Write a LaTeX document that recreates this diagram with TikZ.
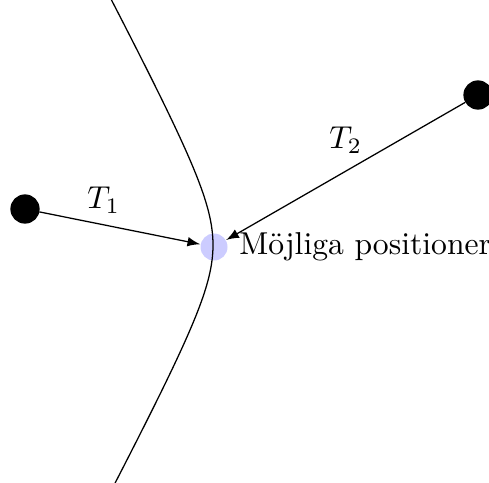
\documentclass[tikz,border=0pt]{standalone}
\usetikzlibrary{positioning}
\newcommand{\pxu}{0.316pt}
\begin{document}
\begin{tikzpicture}[x=\pxu, y=-\pxu,
    sender/.style = {draw, circle, fill=black, minimum size=28*\pxu, inner sep=0pt},
    mottagare/.style = {circle, fill=blue!20, minimum size=27*\pxu, inner sep=0pt}]
    \clip (0,0) rectangle (489,482);
    \useasboundingbox (0,0) rectangle (489,482);

    \node[sender] (s1) at (25,209) {};
    \node[sender] (s2) at (478,95) {};
    \node[mottagare] (m) at (214,247) {};
    \node (lab) [right=0pt of m] {M\"ojliga positioner};

    \draw plot[domain=-2.1:2.1, samples=80, variable=\t] ({246-33*cosh(\t)}, {245+62*sinh(\t)});

    \draw[-latex] (s1) -- node[above, pos=0.4] {$T_1$} (m);
    \draw[-latex] (s2) -- node[above, pos=0.5, yshift=2pt] {$T_2$} (m);

\end{tikzpicture}
\end{document}
